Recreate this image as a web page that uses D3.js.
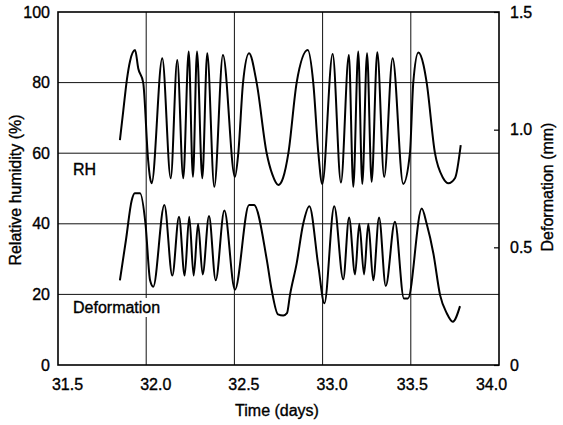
<!DOCTYPE html>
<html>
<head>
<meta charset="utf-8">
<script src="https://cdn.jsdelivr.net/npm/d3@7"></script>
<style>
  html, body { margin: 0; padding: 0; background: #fff; }
  svg { display: block; font-family: "Liberation Sans", Arial, sans-serif; }
  svg text { stroke: #000; stroke-width: 0.35px; }
</style>
</head>
<body>
<svg id="chart" width="563" height="425"></svg>
<script>
// ---- Data ----
const xTicks = [31.5, 32.0, 32.5, 33.0, 33.5, 34.0];
const yLeftTicks = [0, 20, 40, 60, 80, 100];
const yRightTicks = [0, 0.5, 1.0, 1.5];

const rhTime = [31.851, 31.870, 31.891, 31.908, 31.937, 31.955, 31.983, 32.011, 32.022, 32.031,
  32.091, 32.139, 32.176, 32.210, 32.241, 32.265, 32.288, 32.318, 32.346, 32.386,
  32.435, 32.503, 32.522, 32.549, 32.583, 32.626, 32.683, 32.715, 32.749, 32.776,
  32.806, 32.853, 32.916, 32.947, 32.976, 32.998, 33.057, 33.104, 33.149, 33.174,
  33.202, 33.225, 33.252, 33.278, 33.310, 33.349, 33.397, 33.457, 33.495, 33.514,
  33.543, 33.572, 33.590, 33.637, 33.683, 33.713, 33.751, 33.783];
const rhValue = [63.7, 72, 81, 86, 89.2, 84, 80, 58, 53, 51.5,
  86.9, 52.9, 86.4, 52.9, 88.8, 53.3, 88.8, 52.9, 88.3, 50.5,
  87.8, 53.3, 60, 80, 88.3, 80, 60, 54, 51, 53,
  60, 80, 89.2, 80, 60, 51.3, 88.1, 51.7, 87.8, 50.5,
  88.8, 51.3, 88.3, 51.9, 88.6, 53.3, 86.9, 51.3, 60, 80,
  88.5, 85, 80, 60, 53, 51.5, 53, 62.3];

const defTime = [31.851, 31.885, 31.918, 31.935, 31.965, 31.996, 32.022, 32.040,
  32.103, 32.148, 32.186, 32.218, 32.244, 32.269, 32.294, 32.320, 32.356, 32.394,
  32.443, 32.503, 32.583, 32.611, 32.683, 32.711, 32.747, 32.777, 32.798,
  32.815, 32.853, 32.890, 32.925, 32.976, 33.010, 33.066, 33.117, 33.150, 33.184,
  33.208, 33.235, 33.259, 33.287, 33.320, 33.358, 33.410, 33.461, 33.484, 33.562,
  33.590, 33.628, 33.666, 33.704, 33.738, 33.779];
const defValue = [0.36, 0.53, 0.70, 0.73, 0.73, 0.60, 0.36, 0.333,
  0.68, 0.38, 0.63, 0.38, 0.63, 0.38, 0.60, 0.385, 0.633, 0.36,
  0.656, 0.32, 0.68, 0.68, 0.45, 0.32, 0.215, 0.21, 0.22,
  0.297, 0.432, 0.60, 0.675, 0.42, 0.262, 0.675, 0.364, 0.627, 0.385,
  0.60, 0.385, 0.60, 0.36, 0.627, 0.336, 0.609, 0.283, 0.283, 0.665,
  0.60, 0.474, 0.297, 0.22, 0.184, 0.25];

// ---- Layout ----
const svg = d3.select("#chart");
const m = { left: 58, top: 12, right: 64, bottom: 60 };
const W = 563 - m.left - m.right;   // 441
const H = 425 - m.top - m.bottom;   // 353

const x = d3.scaleLinear().domain([31.5, 34.0]).range([0, W]);
const yL = d3.scaleLinear().domain([0, 100]).range([H, 0]);
const yR = d3.scaleLinear().domain([0, 1.5]).range([H, 0]);

const g = svg.append("g").attr("transform", `translate(${m.left},${m.top})`);

// Gridlines
g.append("g").selectAll("line")
  .data(yLeftTicks.filter(d => d > 0 && d < 100))
  .join("line")
  .attr("x1", 0).attr("x2", W)
  .attr("y1", d => yL(d)).attr("y2", d => yL(d))
  .attr("stroke", "#111").attr("stroke-width", 1);
g.append("g").selectAll("line")
  .data(xTicks.filter(d => d > 31.5 && d < 34.0))
  .join("line")
  .attr("x1", d => x(d)).attr("x2", d => x(d))
  .attr("y1", 0).attr("y2", H)
  .attr("stroke", "#111").attr("stroke-width", 1);

// Frame
g.append("rect").attr("x", 0).attr("y", 0).attr("width", W).attr("height", H)
  .attr("fill", "none").attr("stroke", "#000").attr("stroke-width", 1.6);

// Axes
const fs = "16px";
const xAxis = g.append("g").attr("transform", `translate(0,${H})`)
  .call(d3.axisBottom(x).tickValues(xTicks).tickFormat(d3.format(".1f")).tickSize(0).tickPadding(14));
xAxis.select(".domain").remove();
xAxis.selectAll("text").attr("font-size", fs).attr("fill", "#000")
  .attr("dx", d => d < 33.5 ? 9 : (d === 33.5 ? 1 : -8));

const yAxisL = g.append("g")
  .call(d3.axisLeft(yL).tickValues(yLeftTicks).tickFormat(d3.format("d")).tickSize(0).tickPadding(8));
yAxisL.select(".domain").remove();
yAxisL.selectAll("text").attr("font-size", fs).attr("fill", "#000");

const yAxisR = g.append("g").attr("transform", `translate(${W},0)`)
  .call(d3.axisRight(yR).tickValues(yRightTicks).tickFormat(d => d === 0 ? "0" : d3.format(".1f")(d)).tickSize(-5).tickPadding(11));
yAxisR.select(".domain").remove();
yAxisR.selectAll("line").attr("stroke", "#000").attr("stroke-width", 1.2);
yAxisR.selectAll("text").attr("font-size", fs).attr("fill", "#000");

// Series labels (Deformation has a white box masking the gridline)
const lblG = g.append("g");
const defLbl = lblG.append("text").attr("x", 15).attr("y", 301)
  .attr("font-size", fs).attr("fill", "#000").text("Deformation");
const bb = defLbl.node().getBBox();
lblG.insert("rect", ":first-child").attr("x", bb.x - 1).attr("y", bb.y - 1)
  .attr("width", bb.width + 2).attr("height", bb.height + 2).attr("fill", "#fff");
g.append("text").attr("x", 15).attr("y", 163)
  .attr("font-size", fs).attr("fill", "#000").text("RH");

// Series
const rhData = rhTime.map((t, i) => [t, rhValue[i]]);
const defData = defTime.map((t, i) => [t, defValue[i]]);

g.append("path").datum(rhData)
  .attr("fill", "none").attr("stroke", "#000").attr("stroke-width", 2)
  .attr("stroke-linejoin", "round")
  .attr("d", d3.line().x(d => x(d[0])).y(d => yL(d[1])).curve(d3.curveMonotoneX));

g.append("path").datum(defData)
  .attr("fill", "none").attr("stroke", "#000").attr("stroke-width", 2)
  .attr("stroke-linejoin", "round")
  .attr("d", d3.line().x(d => x(d[0])).y(d => yR(d[1])).curve(d3.curveMonotoneX));

// Axis titles
svg.append("text").attr("x", 277).attr("y", 416).attr("text-anchor", "middle")
  .attr("font-size", fs).attr("fill", "#000").text("Time (days)");
svg.append("text").attr("transform", "translate(21,190) rotate(-90)").attr("text-anchor", "middle")
  .attr("font-size", fs).attr("fill", "#000").text("Relative humidity (%)");
svg.append("text").attr("transform", "translate(553,187) rotate(-90)").attr("text-anchor", "middle")
  .attr("font-size", fs).attr("fill", "#000").text("Deformation (mm)");
</script>
</body>
</html>
